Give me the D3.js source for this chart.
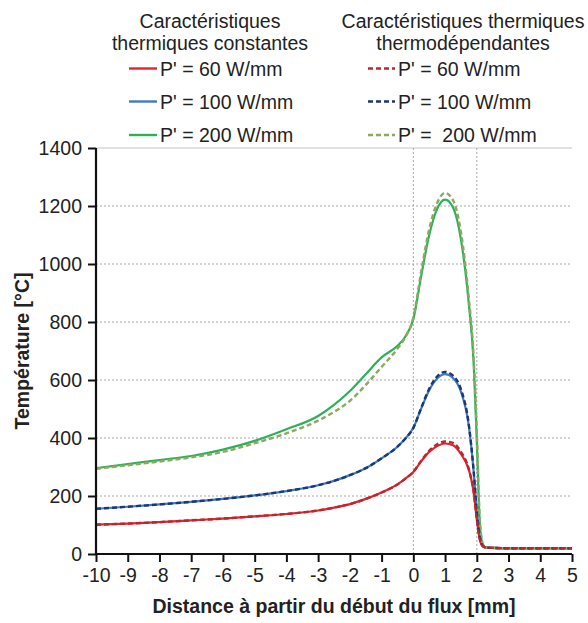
<!DOCTYPE html>
<html>
<head>
<meta charset="utf-8">
<script src="https://cdn.jsdelivr.net/npm/d3@7"></script>
<style>
  html, body { margin: 0; padding: 0; background: #fff; }
  svg { display: block; }
  text { font-family: "Liberation Sans", Arial, sans-serif; fill: #222; }
</style>
</head>
<body>
<svg id="chart" width="588" height="623"></svg>
<script>
// ---------------- DATA ----------------
const xValues = [-10,-9,-8,-7,-6,-5,-4,-3,-2.5,-2,-1.5,-1,-0.5,-0.25,0,0.25,0.5,0.75,1,1.25,1.5,1.75,1.9,2,2.1,2.2,2.3,2.5,3,4,5];

const const60  = [101,105,110,116,122,130,138,150,160,172,190,212,240,260,283,320,352,372,381,375,345,290,215,120,48,26,22,21,20,20,20];
const const100 = [156,163,171,180,190,202,217,237,252,272,296,330,370,398,435,502,565,605,620,607,560,440,285,145,55,27,22,21,20,20,20];
const const200 = [296,310,324,338,360,390,430,476,514,562,620,678,718,750,810,960,1100,1190,1222,1195,1085,860,660,390,95,30,22,21,20,20,20];

const dep60  = [101,105,110,116,122,130,138,150,160,172,190,212,240,260,283,322,356,378,388,383,352,292,215,120,48,26,22,21,20,20,20];
const dep100 = [156,163,171,180,190,202,217,237,252,272,296,330,370,398,435,504,570,612,628,615,568,445,288,145,55,27,22,21,20,20,20];
const dep200 = [294,306,319,333,352,382,416,460,490,528,583,645,708,748,815,975,1120,1210,1245,1220,1110,880,680,420,110,32,22,21,20,20,20];

const xTicks = [-10,-9,-8,-7,-6,-5,-4,-3,-2,-1,0,1,2,3,4,5];
const yTicks = [0,200,400,600,800,1000,1200,1400];
const xGridValues = [0, 2];

const headerConst = ["Caractéristiques", "thermiques constantes"];
const headerDep = ["Caractéristiques thermiques", "thermodépendantes"];
const labelsConst = ["P' = 60 W/mm", "P' = 100 W/mm", "P' = 200 W/mm"];
const labelsDep = ["P' = 60 W/mm", "P' = 100 W/mm", "P' =  200 W/mm"];

const colorsConst = ["#e3232b", "#3a7cc3", "#2bb15a"];
const colorsDep = ["#b8282e", "#1f3672", "#8ea85e"];

const xTitle = "Distance à partir du début du flux [mm]";
const yTitle = "Température [°C]";

// ---------------- CHART ----------------
const svg = d3.select("#chart");
const x = d3.scaleLinear().domain([-10, 5]).range([96, 572]);
const y = d3.scaleLinear().domain([0, 1400]).range([554, 148]);
const FS = 19.5;

// horizontal gridlines
svg.append("g").selectAll("line").data(yTicks.filter(d => d > 0)).join("line")
  .attr("x1", x(-10)).attr("x2", x(5))
  .attr("y1", d => y(d)).attr("y2", d => y(d))
  .attr("stroke", d => d === 1400 ? "#c4c4c4" : "#a8a8a8")
  .attr("stroke-width", 1)
  .attr("stroke-dasharray", d => d === 1400 ? null : "2,2");

// vertical gridlines
svg.append("g").selectAll("line").data(xGridValues).join("line")
  .attr("x1", d => x(d)).attr("x2", d => x(d))
  .attr("y1", y(1400)).attr("y2", y(0))
  .attr("stroke", "#a8a8a8").attr("stroke-width", 1).attr("stroke-dasharray", "2,2");

// curves
const line = d3.line().x((d, i) => x(xValues[i])).y(d => y(d)).curve(d3.curveMonotoneX);
const constSeries = [const60, const100, const200];
const depSeries = [dep60, dep100, dep200];

const gLines = svg.append("g");
[2,1,0].forEach(k => {
  gLines.append("path").attr("d", line(constSeries[k]))
    .attr("fill", "none").attr("stroke", colorsConst[k]).attr("stroke-width", 2.2);
});
[2,1,0].forEach(k => {
  gLines.append("path").attr("d", line(depSeries[k]))
    .attr("fill", "none").attr("stroke", colorsDep[k]).attr("stroke-width", 2.4)
    .attr("stroke-dasharray", "5,3");
});

// axes
const fmt = d => String(d);
const yAxis = svg.append("g").attr("transform", `translate(${x(-10)},0)`)
  .call(d3.axisLeft(y).tickValues(yTicks).tickSize(8).tickPadding(6).tickFormat(fmt));
const xAxis = svg.append("g").attr("transform", `translate(0,${y(0)})`)
  .call(d3.axisBottom(x).tickValues(xTicks).tickSize(8).tickPadding(6).tickFormat(fmt));

[yAxis, xAxis].forEach(g => {
  g.select(".domain").attr("stroke", "#111").attr("stroke-width", 2.2);
  g.selectAll(".tick line").attr("stroke", "#111").attr("stroke-width", 2);
  g.selectAll(".tick text").attr("font-size", FS).attr("font-family", "Liberation Sans, Arial, sans-serif").attr("fill", "#222");
});
yAxis.select(".domain").attr("d", `M0,${y(0)}V${y(1400)}`);
xAxis.select(".domain").attr("d", `M${x(-10)},0H${x(5)}`);

// axis titles
svg.append("text").text(xTitle)
  .attr("x", 334).attr("y", 613).attr("text-anchor", "middle")
  .attr("font-size", FS).attr("font-weight", "bold");
svg.append("text").text(yTitle)
  .attr("transform", `translate(29,351) rotate(-90)`)
  .attr("text-anchor", "middle")
  .attr("font-size", FS).attr("font-weight", "bold");

// legend headers
const headerY = [28, 50];
headerConst.forEach((t, i) => {
  svg.append("text").text(t).attr("x", 210).attr("y", headerY[i])
    .attr("text-anchor", "middle").attr("font-size", FS);
});
headerDep.forEach((t, i) => {
  svg.append("text").text(t).attr("x", 463).attr("y", headerY[i])
    .attr("text-anchor", "middle").attr("font-size", FS);
});

// legend rows
const rowY = [68.5, 101.5, 135];
labelsConst.forEach((t, i) => {
  svg.append("line").attr("x1", 129).attr("x2", 157).attr("y1", rowY[i]).attr("y2", rowY[i])
    .attr("stroke", colorsConst[i]).attr("stroke-width", 2.4);
  svg.append("text").text(t).attr("x", 160).attr("y", rowY[i] + 7)
    .attr("font-size", FS).style("white-space", "pre");
});
labelsDep.forEach((t, i) => {
  svg.append("line").attr("x1", 368).attr("x2", 395).attr("y1", rowY[i]).attr("y2", rowY[i])
    .attr("stroke", colorsDep[i]).attr("stroke-width", 2.4).attr("stroke-dasharray", "5,3");
  svg.append("text").text(t).attr("x", 398).attr("y", rowY[i] + 7)
    .attr("font-size", FS).style("white-space", "pre");
});
</script>
</body>
</html>
